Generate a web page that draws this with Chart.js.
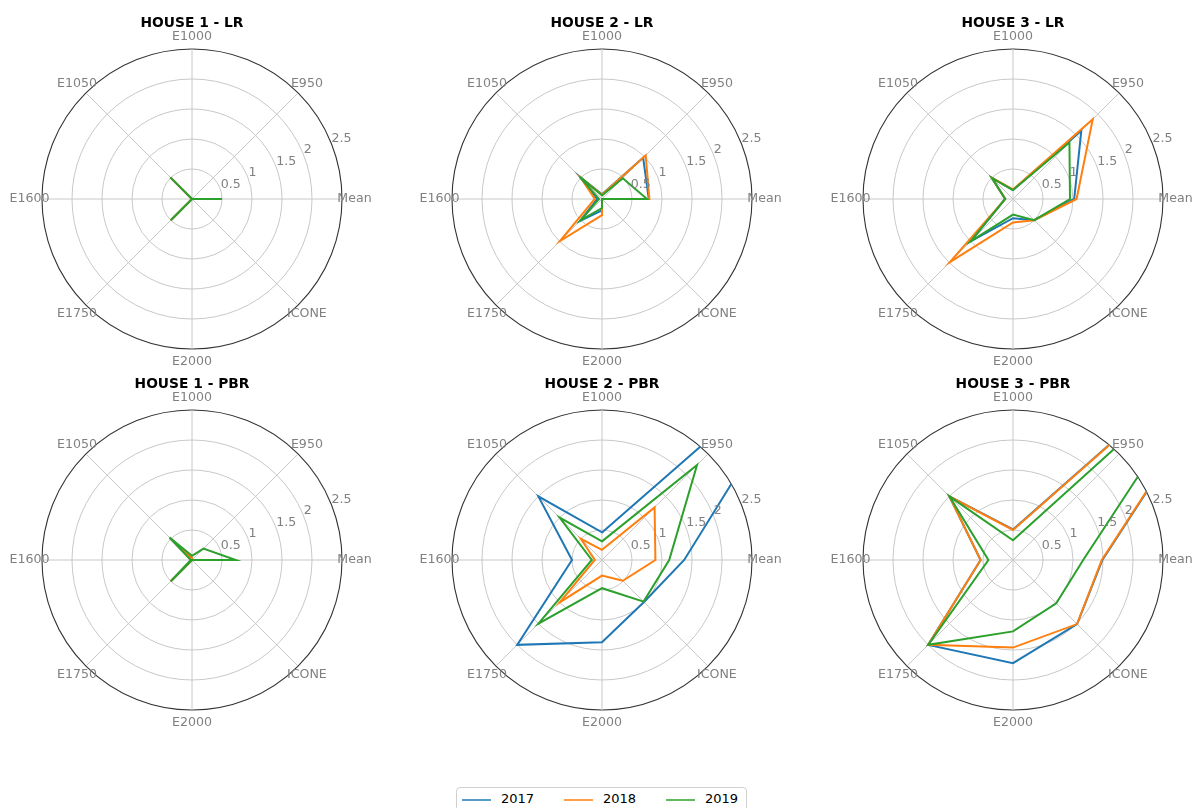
<!DOCTYPE html>
<html>
<head>
<meta charset="utf-8">
<script src="https://cdn.jsdelivr.net/npm/chart.js@4"></script>
<style>
  html, body { margin: 0; padding: 0; background: #fff; }
  body { width: 1195px; height: 808px; position: relative; overflow: hidden; font-family: "DejaVu Sans", sans-serif; }
  .cell { position: absolute; width: 380px; height: 380px; }
  #legend { position: absolute; left: 456px; top: 787px; width: 291px; height: 34px; box-sizing: border-box;
            border: 1px solid #d0d0d0; border-radius: 4px; background: #fff; font-size: 13px; color: #000; }
  #legend .sw { position: absolute; top: 11px; width: 29px; height: 2px; opacity: 0.75; }
  #legend .tx { position: absolute; top: 3px; }
</style>
</head>
<body>

<div id="legend"></div>

<script>
// axes, clockwise from the top
var axisLabels = ['E1000', 'E950', 'Mean', 'ICONE', 'E2000', 'E1750', 'E1600', 'E1050'];
var years = ['2017', '2018', '2019'];
var yearColors = ['#1f77b4', '#ff7f0e', '#2ca02c'];
var radialTicks = [0.5, 1, 1.5, 2, 2.5];

// house 1 - LR
var h1LR2017 = [0, 0, 0.5, 0, 0, 0.5, 0, 0.51];
var h1LR2018 = [0, 0, 0.5, 0, 0, 0.5, 0, 0.51];
var h1LR2019 = [0, 0, 0.5, 0, 0, 0.5, 0, 0.51];
// house 2 - LR
var h2LR2017 = [0.08, 0.97, 0.78, 0, 0.19, 0.52, 0.08, 0.52];
var h2LR2018 = [0.07, 1.03, 0.79, 0, 0.27, 0.99, 0.12, 0.5];
var h2LR2019 = [0.06, 0.49, 0.75, 0, 0.15, 0.5, 0.05, 0.53];
// house 3 - LR
var h3LR2017 = [0.15, 1.61, 1.02, 0.5, 0.32, 1.0, 0.13, 0.5];
var h3LR2018 = [0.16, 1.88, 1.06, 0.5, 0.39, 1.49, 0.13, 0.5];
var h3LR2019 = [0.15, 1.33, 0.95, 0.5, 0.26, 1.0, 0.13, 0.5];
// house 1 - PBR
var h1PBR2017 = [0.03, 0, 0.72, 0, 0, 0.5, 0, 0.52];
var h1PBR2018 = [0.03, 0, 0.72, 0, 0, 0.5, 0, 0.52];
var h1PBR2019 = [0.07, 0.27, 0.73, 0, 0, 0.5, 0.02, 0.53];
// house 2 - PBR
var h2PBR2017 = [0.46, 5.1, 1.37, 0.99, 1.37, 2.0, 0.5, 1.5];
var h2PBR2018 = [0.17, 1.24, 0.89, 0.49, 0.26, 1.0, 0.12, 0.5];
var h2PBR2019 = [0.31, 2.24, 1.12, 0.98, 0.47, 1.5, 0.17, 1.0];
// house 3 - PBR
var h3PBR2017 = [0.51, 6.0, 1.49, 1.51, 1.72, 2.0, 0.54, 1.5];
var h3PBR2018 = [0.5, 6.0, 1.48, 1.51, 1.46, 2.0, 0.54, 1.5];
var h3PBR2019 = [0.33, 4.8, 1.17, 1.02, 1.19, 2.0, 0.41, 1.5];

var panels = [
  { title: 'HOUSE 1 - LR', left: 2, top: 9, series: [h1LR2017, h1LR2018, h1LR2019] },
  { title: 'HOUSE 2 - LR', left: 412, top: 9, series: [h2LR2017, h2LR2018, h2LR2019] },
  { title: 'HOUSE 3 - LR', left: 823, top: 9, series: [h3LR2017, h3LR2018, h3LR2019] },
  { title: 'HOUSE 1 - PBR', left: 2, top: 370, series: [h1PBR2017, h1PBR2018, h1PBR2019] },
  { title: 'HOUSE 2 - PBR', left: 412, top: 370, series: [h2PBR2017, h2PBR2018, h2PBR2019] },
  { title: 'HOUSE 3 - PBR', left: 823, top: 370, series: [h3PBR2017, h3PBR2018, h3PBR2019] }
];

// clip lines to the outer circle, draw labels like a polar axes
var polarDecor = {
  id: 'polarDecor',
  beforeDatasetsDraw: function (chart) {
    var r = chart.scales.r;
    var ctx = chart.ctx;
    ctx.save();
    ctx.beginPath();
    ctx.arc(r.xCenter, r.yCenter, r.drawingArea, 0, Math.PI * 2);
    ctx.clip();
  },
  afterDatasetsDraw: function (chart, args, opts) {
    var r = chart.scales.r;
    var ctx = chart.ctx;
    ctx.restore();
    ctx.save();
    ctx.fillStyle = '#808080';
    ctx.font = '12.6px "DejaVu Sans"';
    ctx.textAlign = 'left';
    ctx.textBaseline = 'alphabetic';
    var a = 22.5 * Math.PI / 180;
    radialTicks.forEach(function (v) {
      var d = r.getDistanceFromCenterForValue(v);
      ctx.fillText(String(v), r.xCenter + d * Math.cos(a) + 1, r.yCenter - d * Math.sin(a));
    });
    ctx.textAlign = 'center';
    ctx.textBaseline = 'middle';
    axisLabels.forEach(function (lab, i) {
      var p = r.getPointPosition(i, r.drawingArea + 12.5);
      ctx.fillText(lab, p.x, p.y);
    });
    ctx.fillStyle = '#000';
    ctx.font = 'bold 13.8px "DejaVu Sans"';
    ctx.fillText(opts.title, r.xCenter, r.yCenter - 175.5);
    ctx.restore();
  }
};

panels.forEach(function (p) {
  var div = document.createElement('div');
  div.className = 'cell';
  div.style.left = p.left + 'px';
  div.style.top = p.top + 'px';
  var cv = document.createElement('canvas');
  cv.width = 380;
  cv.height = 380;
  div.appendChild(cv);
  document.body.appendChild(div);

  new Chart(cv.getContext('2d'), {
    type: 'radar',
    data: {
      labels: axisLabels,
      datasets: p.series.map(function (vals, k) {
        return {
          label: years[k],
          data: vals,
          borderColor: yearColors[k],
          backgroundColor: yearColors[k],
          borderWidth: 2,
          fill: false,
          pointRadius: 0,
          order: 3 - k
        };
      })
    },
    options: {
      responsive: false,
      animation: false,
      layout: { padding: 40 },
      plugins: {
        legend: { display: false },
        tooltip: { enabled: false },
        polarDecor: { title: p.title }
      },
      scales: {
        r: {
          min: 0,
          max: 2.5,
          startAngle: 0,
          ticks: { display: false, stepSize: 0.5 },
          pointLabels: { display: false },
          grid: {
            circular: true,
            lineWidth: function (c) { return c.tick && c.tick.value >= 2.5 ? 1.1 : 1; },
            color: function (c) { return c.tick && c.tick.value >= 2.5 ? '#333333' : '#c8c8c8'; }
          },
          angleLines: { color: '#c8c8c8', lineWidth: 1 }
        }
      }
    },
    plugins: [polarDecor]
  });
});

// legend
var legend = document.getElementById('legend');
years.forEach(function (y, i) {
  var sw = document.createElement('span');
  sw.className = 'sw';
  sw.style.left = (5 + i * 102) + 'px';
  sw.style.background = yearColors[i];
  legend.appendChild(sw);
  var tx = document.createElement('span');
  tx.className = 'tx';
  tx.style.left = (44 + i * 102) + 'px';
  tx.textContent = y;
  legend.appendChild(tx);
});
</script>
</body>
</html>
